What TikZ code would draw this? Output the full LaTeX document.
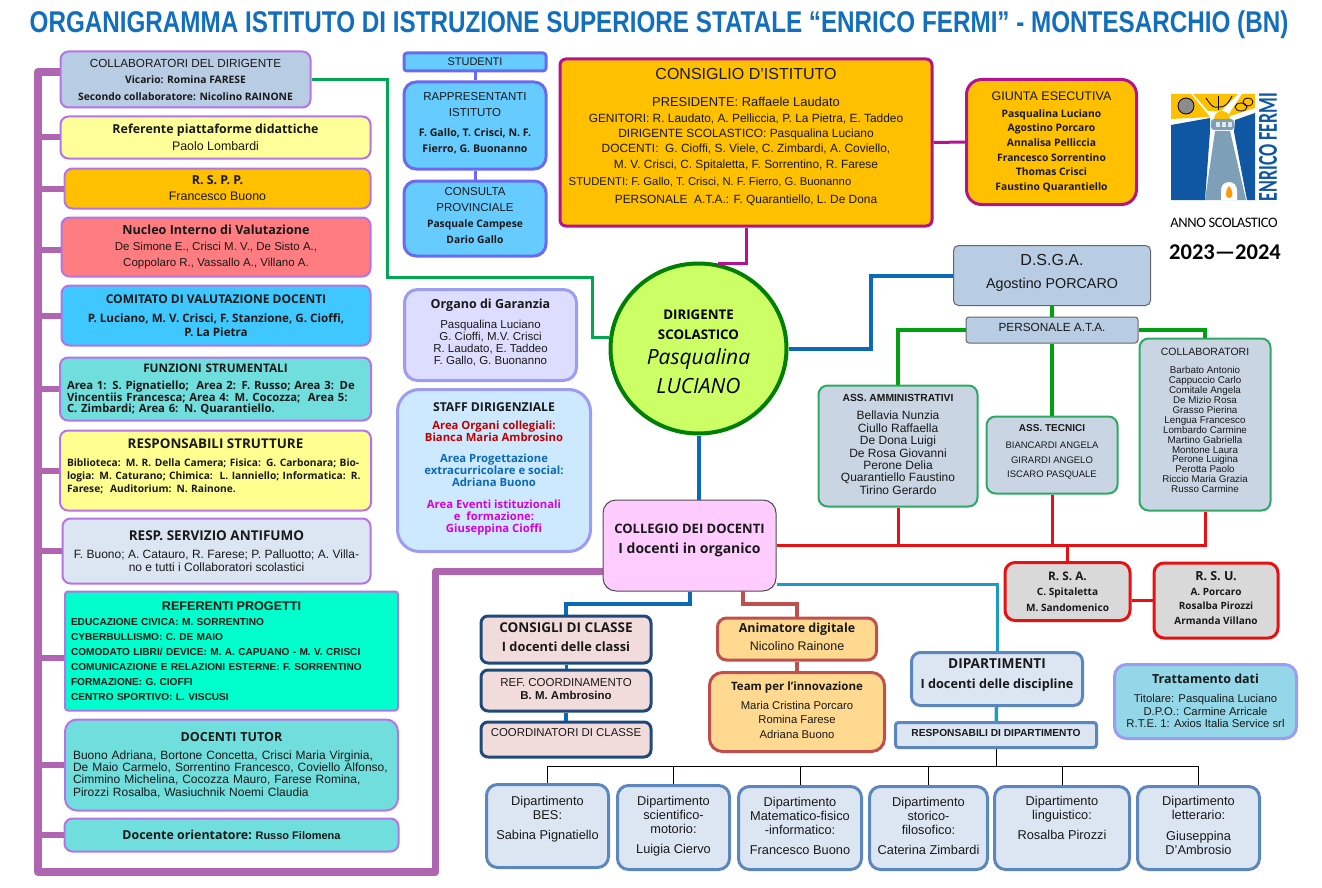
\documentclass[tikz,border=0pt]{standalone}
\usepackage{fontspec}
\setmainfont{Liberation Sans}
\newfontfamily\tah{Open Sans}
\newfontfamily\carl{Carlito}
\usetikzlibrary{shapes.geometric}

\definecolor{titleblue}{HTML}{126FBC}
\definecolor{purplebus}{HTML}{B065B0}
\definecolor{lilac}{HTML}{B574E6}
\definecolor{periw}{HTML}{9C9CF0}
\definecolor{lineblue}{HTML}{0B6AB8}
\definecolor{linegreen}{HTML}{00A010}
\definecolor{boxgreen}{HTML}{2DA866}
\definecolor{magline}{HTML}{B5128F}
\definecolor{redline}{HTML}{E81010}
\definecolor{brick}{HTML}{C0504D}
\definecolor{teal}{HTML}{1A9CC5}
\definecolor{navy}{HTML}{1F497D}
\definecolor{steel}{HTML}{5B86BE}
\definecolor{palesteel}{HTML}{DCE6F2}
\definecolor{greyblue}{HTML}{B8CCE4}
\definecolor{aqua}{HTML}{70DEDC}
\definecolor{paleyel}{HTML}{FFFF99}
\definecolor{amber}{HTML}{FFC000}
\definecolor{studfill}{HTML}{66CCFF}
\definecolor{studdraw}{HTML}{6A6AF0}
\definecolor{classfill}{HTML}{F2DCDB}
\definecolor{animfill}{HTML}{FFD98F}
\definecolor{atafill}{HTML}{C9D5E3}
\definecolor{privfill}{HTML}{93D7E8}
\definecolor{nucfill}{HTML}{FF7C80}
\definecolor{comfill}{HTML}{3FC8FF}
\definecolor{strufill}{HTML}{FFFF8F}
\definecolor{progfill}{HTML}{00FFCC}
\definecolor{dirfill}{HTML}{CCFF66}
\definecolor{colfill}{HTML}{FFCCFF}
\definecolor{garfill}{HTML}{DDDDFF}
\definecolor{stafill}{HTML}{CCE9FF}
\definecolor{collabgreen}{HTML}{00A84F}
\definecolor{logoblue}{HTML}{0F56A3}
\definecolor{logotower}{HTML}{7E9FB8}

\newcommand{\fs}[2]{\fontsize{#1}{#2}\selectfont}
% push the text of a box up by half the value
\newcommand{\lift}[1]{\rule[-#1pt]{0pt}{0pt}}

\begin{document}
\begin{tikzpicture}[x=1pt,y=-1pt,
  box/.style={draw,rounded corners=#1,align=center,inner sep=0pt,text=black!90},
  box/.default=8pt,
  leftbox/.style={box,draw=lilac,line width=2pt},
  studbox/.style={box=12pt,draw=studdraw,line width=3pt,fill=studfill},
  atabox/.style={box=9pt,draw=boxgreen,line width=2pt,fill=atafill},
  redbox/.style={box=10pt,draw=redline,line width=3pt,fill=black!15},
  classbox/.style={box=7pt,draw=navy,line width=3pt,fill=classfill},
  animbox/.style={box=9pt,draw=brick,line width=3pt,fill=animfill},
  depbox/.style={box=11pt,draw=steel,line width=3pt,fill=palesteel},
  busline/.style={purplebus,line width=6pt},
  studline/.style={studdraw,line width=3pt},
  magline3/.style={magline,line width=3pt},
  blueline/.style={lineblue,line width=4pt},
  ataline/.style={linegreen,line width=4pt},
  redl/.style={redline,line width=3pt}]

\useasboundingbox (0,0) rectangle (1322,888);

% Title
\node[titleblue] (title) at (659,25)
  {\fs{30}{32}\bfseries\scalebox{.808}[1]{ORGANIGRAMMA ISTITUTO DI ISTRUZIONE SUPERIORE STATALE “ENRICO FERMI” - MONTESARCHIO (BN)}};

% Left column
\node[leftbox,fill=greyblue,minimum width=250pt,minimum height=56pt,font=\fs{10.3}{16.5}\tah\bfseries] (collab) at (185.5,79.5)
  {{\fs{11.7}{16.5}\mdseries\rmfamily COLLABORATORI DEL DIRIGENTE}\\Vicario: Romina FARESE\\Secondo collaboratore: Nicolino RAINONE};
\node[leftbox,fill=paleyel,minimum width=310pt,minimum height=42pt,font=\fs{12.4}{16.5}] (referente) at (215.5,137.5)
  {{\tah\bfseries Referente piattaforme didattiche}\\Paolo Lombardi};
\node[leftbox,fill=amber,minimum width=306pt,minimum height=40pt,font=\fs{12.4}{16}] (rspp) at (217.5,188.5)
  {{\tah\bfseries R. S. P. P.}\\Francesco Buono};
\node[leftbox,fill=nucfill,minimum width=309pt,minimum height=59pt,font=\fs{11.5}{16}] (nucleo) at (216,247)
  {{\fs{12.6}{16}\tah\bfseries Nucleo Interno di Valutazione}\\De Simone E., Crisci M. V., De Sisto A.,\\Coppolaro R., Vassallo A., Villano A.\lift{3}};
\node[leftbox,fill=comfill,minimum width=309pt,minimum height=60pt,font=\fs{11.6}{14}\tah\bfseries] (comitato) at (216,315.5)
  {{\fs{12}{14}COMITATO DI VALUTAZIONE DOCENTI}\\[5pt]P. Luciano, M. V. Crisci, F. Stanzione, G. Cioffi,\\P. La Pietra};
\node[leftbox,align=left,fill=aqua,text width=297pt,inner xsep=7pt,minimum height=63pt,font=\fs{11.3}{11.5}\tah\bfseries] (funzioni) at (215.5,389)
  {\makebox[297pt]{\fs{11.8}{11.5}FUNZIONI STRUMENTALI}\\[6pt]Area 1: S. Pignatiello;\ \ Area 2: F. Russo; Area 3: De\\Vincentiis Francesca; Area 4: M. Cocozza;\ \ Area 5:\\C. Zimbardi; Area 6: N. Quarantiello.};
\node[leftbox,align=left,fill=strufill,text width=297pt,inner xsep=7pt,minimum height=80pt,font=\fs{10.2}{13}\tah\bfseries] (strutture) at (215.5,470.5)
  {\makebox[297pt]{\fs{13.4}{13}RESPONSABILI STRUTTURE}\\[5pt]Biblioteca: M. R. Della Camera; Fisica: G. Carbonara; Bio-\\logia: M. Caturano; Chimica:\ \ L. Ianniello; Informatica: R.\\Farese;\ \ Auditorium: N. Rainone.\lift{9}};
\node[leftbox,fill=palesteel,minimum width=308pt,minimum height=65pt,font=\fs{12}{13}] (antifumo) at (216.5,551)
  {{\fs{13.5}{13}\tah\bfseries RESP. SERVIZIO ANTIFUMO}\\[5pt]F. Buono; A. Catauro, R. Farese; P. Palluotto; A. Villa-\\no e tutti i Collaboratori scolastici};
\node[leftbox,box=3pt,draw=lilac,line width=2pt,align=left,fill=progfill,text width=321pt,inner xsep=6pt,minimum height=119pt,font=\fs{10.1}{15}\bfseries] (progetti) at (231.5,651)
  {\makebox[321pt]{\fs{12.6}{15}REFERENTI PROGETTI}\\EDUCAZIONE CIVICA: M. SORRENTINO\\CYBERBULLISMO: C. DE MAIO\\COMODATO LIBRI/ DEVICE: M. A. CAPUANO - M. V. CRISCI\\COMUNICAZIONE E RELAZIONI ESTERNE: F. SORRENTINO\\FORMAZIONE: G. CIOFFI\\CENTRO SPORTIVO: L. VISCUSI};
\node[leftbox,box=12pt,draw=lilac,line width=2pt,align=left,fill=aqua,text width=317pt,inner xsep=8pt,minimum height=91pt,font=\fs{12}{12.2}] (tutor) at (231.5,765)
  {\makebox[317pt]{\fs{12.5}{12.2}\tah\bfseries DOCENTI TUTOR}\\[6pt]Buono Adriana, Bortone Concetta, Crisci Maria Virginia,\\De Maio Carmelo, Sorrentino Francesco, Coviello Alfonso,\\Cimmino Michelina, Cocozza Mauro, Farese Romina,\\Pirozzi Rosalba, Wasiuchnik Noemi Claudia};
\node[leftbox,fill=aqua,minimum width=334pt,minimum height=33pt] (orientatore) at (231.5,835)
  {{\fs{12.4}{14}\tah\bfseries Docente orientatore:} {\fs{11}{14}\bfseries Russo Filomena}};

% Purple bus with its stubs
\coordinate (busleft) at (38,72);
\coordinate (busbottom) at (38,872);
\coordinate (busright) at (435.5,872);
\coordinate (busup) at (435.5,571.5);
\draw[purplebus,line width=7.5pt,line join=round] (collab.west |- busleft) -- (busleft) -- (busbottom) -- (busright) -- (busup) -- (604,571.5);
\foreach \nn in {referente,rspp,comitato,funzioni,strutture,antifumo,tutor,orientatore}
  \draw[busline] (busleft |- \nn.west) -- (\nn.west);
\draw[busline] ([yshift=-3pt]nucleo.west -| busleft) -- ([yshift=-3pt]nucleo.west);
\draw[busline] ([yshift=-7pt]progetti.west -| busleft) -- ([yshift=-7pt]progetti.west);

% Students
\node[studbox,box=3pt,draw=studdraw,line width=3pt,fill=studfill,minimum width=142pt,minimum height=18pt,font=\fs{11}{12}] (studenti) at (475,62)
  {STUDENTI};
\node[studbox,minimum width=142pt,minimum height=87pt,font=\fs{11.5}{16}] (rappresentanti) at (475,125.5)
  {RAPPRESENTANTI\\ISTITUTO\\[4pt]{\fs{10.6}{16}\tah\bfseries F. Gallo, T. Crisci, N. F.}\\{\fs{10.6}{16}\tah\bfseries Fierro, G. Buonanno}\lift{7}};
\node[studbox,minimum width=142pt,minimum height=75pt,font=\fs{11.5}{16}] (consulta) at (475,218.5)
  {CONSULTA\\PROVINCIALE\\{\fs{10.3}{15.5}\tah\bfseries Pasquale Campese}\\{\fs{10.3}{15.5}\tah\bfseries Dario Gallo}\lift{6}};
\draw[studline] (studenti) -- (rappresentanti);
\draw[studline] (rappresentanti) -- (consulta);

% Council
\node[box=6pt,draw=magline,line width=3pt,fill=amber,minimum width=372pt,minimum height=167pt,font=\fs{11.9}{15.3}] (consiglio) at (746,142.5)
  {{\fs{16}{15.3}CONSIGLIO D’ISTITUTO}\\[12.5pt]{\fs{12.9}{15.3}PRESIDENTE: Raffaele Laudato}\\GENITORI: R. Laudato, A. Pelliccia, P. La Pietra, E. Taddeo\\DIRIGENTE SCOLASTICO: Pasqualina Luciano\\DOCENTI:\ \ G. Cioffi, S. Viele, C. Zimbardi, A. Coviello,\\M. V. Crisci, C. Spitaletta, F. Sorrentino, R. Farese\\[2.5pt]{\fs{11.3}{15.3}STUDENTI: F. Gallo, T. Crisci, N. F. Fierro, G. Buonanno}\rule{72pt}{0pt}\\[2pt]PERSONALE\ \ A.T.A.: F. Quarantiello, L. De Dona\lift{14}};
\node[box=15pt,draw=magline,line width=3pt,fill=amber,minimum width=170pt,minimum height=125pt,font=\fs{10.3}{14.6}\tah\bfseries] (giunta) at (1051.5,142)
  {{\fs{12.5}{14.6}\mdseries\rmfamily GIUNTA ESECUTIVA}\\[2pt]Pasqualina Luciano\\Agostino Porcaro\\Annalisa Pelliccia\\Francesco Sorrentino\\Thomas Crisci\\Faustino Quarantiello};
\draw[magline3] (consiglio.east) -- (giunta.west);

% Headmaster
\node[ellipse,draw=green!50!black,line width=4pt,fill=dirfill,minimum width=176pt,minimum height=170pt,inner sep=0pt,align=center,font=\fs{13.3}{20}\tah\bfseries] (dirigente) at (698.5,348.5)
  {\rule{0pt}{16pt}DIRIGENTE\\SCOLASTICO\\[5pt]{\fs{21}{26}\mdseries\itshape Pasqualina}\\[7pt]{\fs{21}{26}\mdseries\itshape LUCIANO}};
\draw[magline3] (consiglio.south) |- (dirigente.77);
\draw[collabgreen,line width=3pt] (collab.east) -- (387,79.5) -- (387,277) -- (592,277) -- (592,337) -- (dirigente.west |- 0,337);

% Guarantee board and staff
\node[box=13pt,draw=periw,line width=3pt,fill=garfill,minimum width=172pt,minimum height=91pt,font=\fs{11.5}{12.2}] (garanzia) at (490.5,335)
  {{\fs{12.5}{12.2}\tah\bfseries Organo di Garanzia}\\[7pt]Pasqualina Luciano\\G. Cioffi, M.V. Crisci\\R. Laudato, E. Taddeo\\F. Gallo, G. Buonanno\lift{6}};
\node[box=22pt,draw=periw,line width=3pt,fill=stafill,minimum width=193pt,minimum height=162pt,font=\fs{11.3}{11.7}\tah\bfseries] (staff) at (494,470.5)
  {{\fs{12.2}{11.7}STAFF DIRIGENZIALE}\\[6pt]\textcolor{red!75!black}{Area Organi collegiali:}\\\textcolor{red!75!black}{Bianca Maria Ambrosino}\\[10pt]\textcolor{lineblue}{Area Progettazione}\\\textcolor{lineblue}{extracurricolare e social:}\\\textcolor{lineblue}{Adriana Buono}\\[11pt]\textcolor{violet!30!magenta}{Area Eventi istituzionali}\\\textcolor{violet!30!magenta}{e\ \ formazione:}\\\textcolor{violet!30!magenta}{Giuseppina Cioffi}\lift{6}};

% D.S.G.A. and staff groups
\node[box=5pt,draw=black!60,line width=1pt,fill=greyblue,minimum width=197pt,minimum height=60pt,font=\fs{14.3}{23}] (dsga) at (1052,275.5)
  {{\fs{16}{23}D.S.G.A.}\\Agostino PORCARO\lift{8}};
\node[box=3pt,draw=black!60,line width=1pt,fill=greyblue,minimum width=172pt,minimum height=26pt,font=\fs{11.8}{13}] (ata) at (1052,330)
  {PERSONALE A.T.A.\lift{6}};
\node[atabox,minimum width=159pt,minimum height=121pt,font=\fs{12}{12.4}] (amministrativi) at (898,446)
  {{\fs{10.3}{12.4}\bfseries ASS. AMMINISTRATIVI}\\[5.5pt]Bellavia Nunzia\\Ciullo Raffaella\\De Dona Luigi\\De Rosa Giovanni\\Perone Delia\\Quarantiello Faustino\\Tirino Gerardo\lift{3}};
\node[atabox,minimum width=131pt,minimum height=77pt,font=\fs{9.5}{14.5}] (tecnici) at (1052,455)
  {{\fs{10}{14.5}\bfseries ASS. TECNICI}\\[3pt]BIANCARDI ANGELA\\GIRARDI ANGELO\\ISCARO PASQUALE\lift{8}};
\node[atabox,minimum width=131pt,minimum height=172pt,font=\fs{9.8}{9.95}] (bidelli) at (1205,424.5)
  {{\fs{10.5}{9.95}COLLABORATORI}\\[8pt]Barbato Antonio\\Cappuccio Carlo\\Comitale Angela\\De Mizio Rosa\\Grasso Pierina\\Lengua Francesco\\Lombardo Carmine\\Martino Gabriella\\Montone Laura\\Perone Luigina\\Perotta Paolo\\Riccio Maria Grazia\\Russo Carmine\lift{8}};
\draw[blueline] (dirigente.east) -- (870.5,348.5) -- (870.5,275.5) -- (dsga.west);
\draw[ataline] (dsga) -- (ata);
\draw[ataline] (ata.west) -| (amministrativi.north);
\draw[ataline] (ata) -- (tecnici);
\draw[ataline] (ata.east) -| (bidelli.north);

% Unions
\node[redbox,minimum width=125pt,minimum height=58pt,font=\fs{10.1}{15.5}\tah\bfseries] (rsa) at (1067.5,591.5)
  {{\fs{11.8}{15.5}R. S. A.}\\C. Spitaletta\\M. Sandomenico};
\node[redbox,minimum width=124pt,minimum height=75pt,font=\fs{10}{14.8}\tah\bfseries] (rsu) at (1216,600.5)
  {{\fs{12.5}{14.8}R. S. U.}\\A. Porcaro\\Rosalba Pirozzi\\Armanda Villano\lift{5}};
\draw[redl] (rsa.east |- 0,600) -- (rsu.west |- 0,600);

% Teachers board
\node[box=13pt,draw=black!70,line width=1pt,fill=colfill,minimum width=173pt,minimum height=91pt,font=\fs{13}{19.5}\tah\bfseries] (collegio) at (689.5,545.5)
  {COLLEGIO DEI DOCENTI\\{\fs{14}{19.5}I docenti in organico}\lift{13}};
\draw[blueline] (dirigente.south) -- (dirigente.south |- collegio.north);
\draw[redl] (collegio.east) -- (bidelli.south |- collegio.east) -- (bidelli.south);
\coordinate (reddrop) at (rsa.north |- collegio.east);
\draw[redl] (reddrop) -- (rsa.north);
\draw[redl] (amministrativi.south) -- (amministrativi.south |- collegio.east);
\draw[redl] (tecnici.south) -- (tecnici.south |- collegio.east);

% Classes
\node[classbox,minimum width=170pt,minimum height=47pt,font=\fs{12.8}{19}\tah\bfseries] (consigli) at (566,639.5)
  {{\fs{13.5}{19}CONSIGLI DI CLASSE}\\I docenti delle classi\lift{4}};
\node[classbox,minimum width=170pt,minimum height=41pt,font=\fs{11.5}{13}] (refcoord) at (566,690.5)
  {REF. COORDINAMENTO\\{\bfseries B. M. Ambrosino}\lift{4}};
\node[classbox,minimum width=170pt,minimum height=35pt,font=\fs{11.4}{13}] (coordinatori) at (566,739.5)
  {COORDINATORI DI CLASSE\lift{13}};
\draw[lineblue,line width=4pt] (collegio.south) -- ++(0,12) -| (consigli.north);
\draw[lineblue,line width=3pt] (consigli) -- (refcoord);
\draw[lineblue,line width=4pt] (refcoord) -- (coordinatori);

% Digital team
\node[animbox,minimum width=159pt,minimum height=42pt,font=\fs{12.5}{18}] (animatore) at (797,639)
  {{\tah\bfseries Animatore digitale}\\Nicolino Rainone\lift{4}};
\node[animbox,box=13pt,draw=brick,line width=3pt,minimum width=175pt,minimum height=79pt,font=\fs{11.3}{14.5}] (team) at (797,712)
  {{\fs{11.5}{14.5}\tah\bfseries Team per l’innovazione}\\[4.5pt]Maria Cristina Porcaro\\Romina Farese\\Adriana Buono\lift{4}};
\draw[brick,line width=3.5pt] (743,591) -- (743,604) -- (797,604) -- (animatore.north);
\draw[brick,line width=4pt] (animatore) -- (team);

% Departments
\node[depbox,box=9pt,draw=steel,line width=3pt,minimum width=171pt,minimum height=53pt,font=\fs{12.7}{20}\tah\bfseries] (dipartimenti) at (997,679)
  {{\fs{13.7}{20}DIPARTIMENTI}\\I docenti delle discipline\lift{10}};
\node[depbox,box=3pt,draw=steel,line width=3pt,minimum width=201pt,minimum height=25pt,font=\fs{10.2}{12}\bfseries] (respdip) at (996,735)
  {RESPONSABILI DI DIPARTIMENTO\lift{4}};
\draw[teal,line width=3pt] (collegio.east |- 0,584) -| (dipartimenti.north);
\draw[teal,line width=3.5pt] (dipartimenti) -- (respdip);
\node[box=12pt,draw=periw,line width=3pt,fill=privfill,minimum width=182pt,minimum height=74pt,font=\fs{11.3}{12.5}] (privacy) at (1205.5,701.5)
  {{\fs{12.5}{12.5}\tah\bfseries Trattamento dati}\\[7pt]Titolare: Pasqualina Luciano\\D.P.O.: Carmine Arricale\\R.T.E. 1: Axios Italia Service srl\lift{2}};

\node[depbox,minimum width=122pt,minimum height=83pt,font=\fs{12.8}{14}] (dipbes) at (547.5,826)
  {Dipartimento\\BES:\\[6pt]Sabina Pignatiello\lift{17}};
\node[depbox,minimum width=112pt,minimum height=84pt,font=\fs{12.8}{14}] (dipsci) at (673.5,827.5)
  {Dipartimento\\scientifico-\\motorio:\\[6pt]Luigia Ciervo\lift{5}};
\node[depbox,minimum width=123pt,minimum height=83pt,font=\fs{12.8}{14}] (dipmat) at (800,828)
  {Dipartimento\\Matematico-fisico\\-informatico:\\[6pt]Francesco Buono\lift{5}};
\node[depbox,minimum width=118pt,minimum height=83pt,font=\fs{12.8}{14}] (dipsto) at (928.5,828)
  {Dipartimento\\storico-\\filosofico:\\[6pt]Caterina Zimbardi\lift{5}};
\node[depbox,minimum width=135pt,minimum height=83pt,font=\fs{12.8}{14}] (diplin) at (1062,828)
  {Dipartimento\\linguistico:\\[6pt]Rosalba Pirozzi\lift{20}};
\node[depbox,minimum width=122pt,minimum height=83pt,font=\fs{12.8}{14}] (diplet) at (1198.5,828)
  {Dipartimento\\letterario:\\[7pt]Giuseppina\\D’Ambrosio\lift{5}};
\coordinate (deptree) at (respdip.south |- 0,766);
\draw[black,line width=1pt] (respdip.south) -- (deptree);
\draw[black,line width=1pt] (dipbes.north |- deptree) -- (diplet.north |- deptree);
\foreach \nn in {dipbes,dipsci,dipmat,dipsto,diplin,diplet}
  \draw[black,line width=1pt] (\nn.north |- deptree) -- (\nn.north);

% Logo
\fill[amber] (1171,94) -- (1191,94) -- (1210,117) -- (1171,119) -- cycle;
\fill[amber] (1193,94) -- (1238,94) -- (1221,111) -- (1208,111) -- cycle;
\fill[amber] (1242,94) -- (1255,94) -- (1255,108) -- (1227,117) -- cycle;
\fill[logoblue] (1171,125) -- (1210,118) -- (1210,131) -- (1205,200) -- (1171,200) -- cycle;
\fill[logoblue] (1235,120) -- (1255,113) -- (1255,200) -- (1247,200) -- (1234,132) -- cycle;
\fill[logotower] (1215,131) -- (1230,131) -- (1246,200) -- (1205,200) -- cycle;
\fill[white] (1221,200) -- (1221,190) arc[start angle=180,end angle=0,x radius=8pt,y radius=8pt] -- (1237,200) -- cycle;
\fill[orange!80!yellow] (1229,186) .. controls (1224,193) and (1226,198) .. (1229,198) .. controls (1233,198) and (1234,192) .. (1229,186);
\fill[amber] (1214,119) arc[start angle=180,end angle=0,x radius=8pt,y radius=8pt] -- cycle;
\fill[logotower,rounded corners=3pt] (1211,119) rectangle (1234,130);
\foreach \wx in {1216,1222,1228}
  \fill[white!75!logotower] (\wx,122) rectangle (\wx+4,127);
\draw[black,line width=.8pt,fill=black!45] (1186,106) circle[radius=8pt];
\draw[black,line width=.8pt] (1206,98) .. controls (1212,107) and (1214,108) .. (1218,107) .. controls (1224,108) and (1228,104) .. (1232,96);
\draw[black,line width=1pt] (1218,96) -- (1218,110);
\draw[black,line width=.8pt] (1241,107) ellipse[x radius=6pt,y radius=4pt];
\draw[black,line width=.8pt] (1248,102) ellipse[x radius=5pt,y radius=4pt];
\node[logoblue,rotate=90] (logotext) at (1268,147)
  {\fs{31}{31}\carl\bfseries\scalebox{.58}[.88]{ENRICO FERMI}};
\node (anno) at (1224,223) {\fs{14.5}{16}\carl\addfontfeature{LetterSpace=-3}ANNO SCOLASTICO};
\node (anni) at (1225,252) {\fs{22.5}{26}\carl\bfseries 2023—2024};

\end{tikzpicture}
\end{document}
